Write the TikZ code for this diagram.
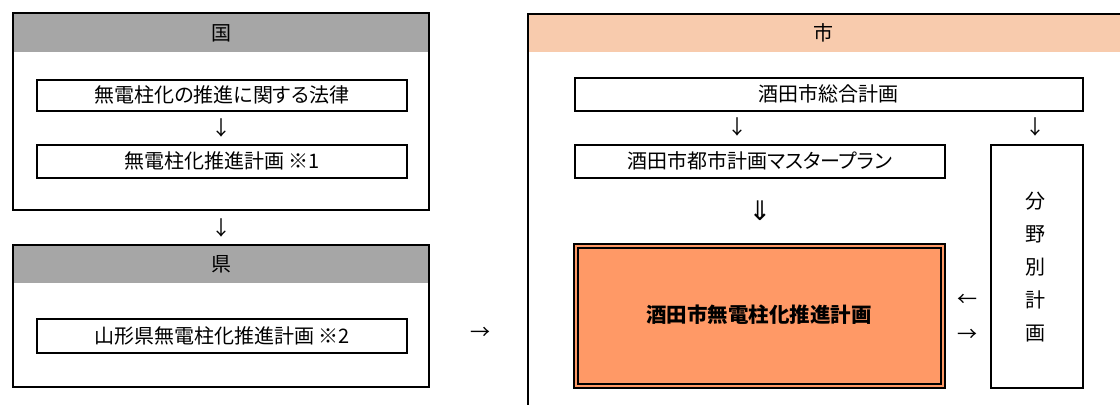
\documentclass[tikz,border=0pt]{standalone}
\usepackage{fontspec}
\setmainfont{Noto Sans CJK JP}[RawFeature=+palt]
\newfontfamily\symfont{DejaVu Sans}
\definecolor{hdrgray}{HTML}{A6A6A6}
\definecolor{hdrpeach}{HTML}{F8CBAD}
\definecolor{mainorange}{HTML}{FF9966}
\begin{document}
\begin{tikzpicture}[x=1pt,y=-1pt,
  frame/.style={draw=black,line width=2pt},
  textbox/.style={draw=black,line width=1.6pt,inner sep=0pt,anchor=north west,font=\fontsize{20}{22}\selectfont},
  txt/.style={inner sep=0pt,font=\fontsize{20}{22}\selectfont},
  arr/.style={inner sep=0pt,font=\fontsize{20}{22}\selectfont}]
\useasboundingbox (0,0) rectangle (1120,405);
% 国
\fill[hdrgray] (13,13) rectangle (429,52);
\draw[frame] (13,13) rectangle (429,210);
\node[txt] (kuni) at (221,33) {国};
\node[textbox,minimum width=370pt,minimum height=31pt] (law) at (36,79) {無電柱化の推進に関する法律};
\node[arr] (a1) at (221,128) {↓};
\node[textbox,minimum width=370pt,minimum height=33pt] (plan1) at (36,144) {無電柱化推進計画 ※1};
\node[arr] (a2) at (221,228) {↓};
% 県
\fill[hdrgray] (13,245) rectangle (429,283);
\draw[frame] (13,245) rectangle (429,387);
\node[txt] (ken) at (221,264) {県};
\node[textbox,minimum width=370pt,minimum height=34pt] (plan2) at (36,318) {山形県無電柱化推進計画 ※2};
\node[arr] (a3) at (480,333) {→};
% 市
\fill[hdrpeach] (528,14) rectangle (1120,52);
\draw[frame] (1121,14) -- (528,14) -- (528,405);
\node[txt] (shi) at (823,33) {市};
\node[textbox,minimum width=508pt,minimum height=33pt] (sogo) at (574,77) {酒田市総合計画};
\node[arr] (a4) at (737,127) {↓};
\node[arr] (a5) at (1035,127) {↓};
\node[textbox,minimum width=370pt,minimum height=33pt] (master) at (574,144) {酒田市都市計画マスタープラン};
\node[textbox,minimum width=92pt,minimum height=243pt] (bunya) at (990,144) {};
\node[txt,align=center,font=\fontsize{20}{33}\selectfont] (bunyat) at (1035,267) {分\\野\\別\\計\\画};
\node[arr,font=\fontsize{27}{28}\selectfont\symfont] (a6) at (760,211) {⇓};
\draw[line width=1.8pt,fill=mainorange] (574,244) rectangle (945,388);
\draw[line width=1.5pt] (578,248) rectangle (941,384);
\node[txt,font=\fontsize{20.5}{22}\selectfont\bfseries] (main) at (759,315) {酒田市無電柱化推進計画};
\node[arr] (a7) at (967,300) {←};
\node[arr] (a8) at (967,335) {→};
\end{tikzpicture}
\end{document}
